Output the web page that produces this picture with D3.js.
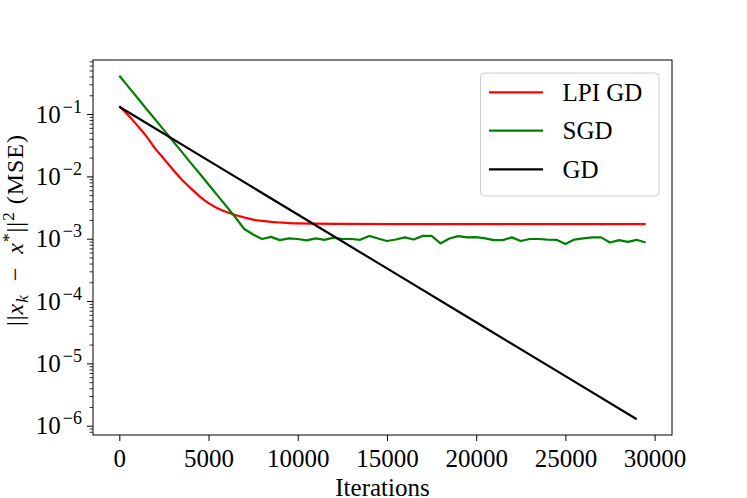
<!DOCTYPE html>
<html>
<head>
<meta charset="utf-8">
<script src="https://cdn.jsdelivr.net/npm/d3@7"></script>
<style>
  body { margin: 0; background: #fff; }
  text { font-family: "Liberation Serif", "Times New Roman", serif; fill: #000; }
</style>
</head>
<body>
<div id="chart"></div>
<script>
// ---- data ----
var seriesNames = ["LPI GD", "SGD", "GD"];
var seriesColors = ["#ff0000", "#008000", "#000000"];

var iterLPI = [0, 500, 1000, 1500, 2000, 2500, 3000, 3500, 4000, 4500, 5000,
  5500, 6000, 6500, 7000, 7500, 8000, 8500, 9000, 9500, 10000,
  12500, 15000, 17500, 20000, 22500, 25000, 27500, 29500];
var mseLPI = [0.134, 0.0955, 0.0661, 0.0447, 0.0282, 0.0191, 0.0129, 0.00891, 0.00646, 0.00479, 0.00372,
  0.00309, 0.00269, 0.00240, 0.00219, 0.00202, 0.00193, 0.00186, 0.00182, 0.00178, 0.00176,
  0.00173, 0.00172, 0.00172, 0.00172, 0.00172, 0.00172, 0.00172, 0.00172];

var iterSGD = [0, 500, 1000, 1500, 2000, 2500, 3000, 3500, 4000, 4500,
  5000, 5500, 6000, 6500, 7000, 7500, 8000, 8500, 9000, 9500,
  10000, 10500, 11000, 11500, 12000, 12500, 13000, 13500, 14000, 14500,
  15000, 15500, 16000, 16500, 17000, 17500, 18000, 18500, 19000, 19500,
  20000, 20500, 21000, 21500, 22000, 22500, 23000, 23500, 24000, 24500,
  25000, 25500, 26000, 26500, 27000, 27500, 28000, 28500, 29000, 29500];
var mseSGD = [0.412, 0.275, 0.184, 0.123, 0.0826, 0.0552, 0.0369, 0.0247, 0.0165, 0.0111,
  0.00740, 0.00495, 0.00331, 0.00221, 0.00143, 0.00117, 0.00099, 0.00107, 0.00095, 0.00101,
  0.00099, 0.00094, 0.00101, 0.00096, 0.00104, 0.00099, 0.00099, 0.00096, 0.00111, 0.00101,
  0.00092, 0.00097, 0.00105, 0.00097, 0.00111, 0.00111, 0.00084, 0.00101, 0.00110, 0.00105,
  0.00106, 0.00101, 0.00095, 0.00095, 0.00105, 0.00092, 0.00099, 0.00099, 0.00097, 0.00096,
  0.00082, 0.00097, 0.00101, 0.00105, 0.00105, 0.00087, 0.00095, 0.00089, 0.00096, 0.00087];

var iterGD = [0, 5000, 10000, 15000, 20000, 25000, 29000];
var mseGD = [0.131, 0.0179, 0.00244, 0.000334, 0.0000457, 0.00000625, 0.00000127];

var xTicks = [0, 5000, 10000, 15000, 20000, 25000, 30000];
var yTickExp = [-1, -2, -3, -4, -5, -6];

// ---- layout ----
var svgWidth = 747, svgHeight = 498;
var margin = { top: 60, right: 75, bottom: 63, left: 93 };
var width = svgWidth - margin.left - margin.right;
var height = svgHeight - margin.top - margin.bottom;

var svg = d3.select("#chart").append("svg")
  .attr("width", svgWidth)
  .attr("height", svgHeight);

var chartGroup = svg.append("g")
  .attr("transform", `translate(${margin.left}, ${margin.top})`);

var xScale = d3.scaleLinear()
  .domain([-1475, 30975])
  .range([0, width]);

var yScale = d3.scaleLog()
  .domain([Math.pow(10, -6.149), Math.pow(10, -0.133)])
  .range([height, 0]);

chartGroup.append("clipPath").attr("id", "plotclip")
  .append("rect").attr("width", width).attr("height", height);

// lines
var seriesData = [
  d3.zip(iterLPI, mseLPI),
  d3.zip(iterSGD, mseSGD),
  d3.zip(iterGD, mseGD)
];

seriesData.forEach(function(pts, i) {
  var lineGen = d3.line()
    .x(d => xScale(d[0]))
    .y(d => yScale(d[1]))
    .curve(i == 0 ? d3.curveMonotoneX : d3.curveLinear);
  chartGroup.append("path")
    .datum(pts)
    .attr("clip-path", "url(#plotclip)")
    .attr("d", lineGen)
    .attr("fill", "none")
    .attr("stroke", seriesColors[i])
    .attr("stroke-width", 2.2)
    .attr("stroke-linejoin", "round");
});

// x axis
var xAxis = d3.axisBottom(xScale).tickValues(xTicks).tickSize(6).tickSizeOuter(0).tickFormat(d3.format("d"));
var xg = chartGroup.append("g")
  .attr("transform", `translate(0, ${height})`)
  .call(xAxis);
xg.select(".domain").remove();
xg.selectAll("line").attr("stroke", "#000").attr("stroke-width", 1);
xg.selectAll("text")
  .attr("dy", null)
  .attr("y", 32.3)
  .style("font-size", "25px")
  .style("font-family", '"Liberation Serif", serif');

// y axis: minor ticks
var minorVals = [];
for (var e = -7; e <= 0; e++) {
  for (var k = 2; k <= 9; k++) {
    var v = k * Math.pow(10, e);
    if (v >= yScale.domain()[0] && v <= yScale.domain()[1]) minorVals.push(v);
  }
}
var yMinor = chartGroup.append("g")
  .call(d3.axisLeft(yScale).tickValues(minorVals).tickSize(3.5).tickFormat(""));
yMinor.select(".domain").remove();
yMinor.selectAll("line").attr("stroke", "#000").attr("stroke-width", 0.8);

var yMajor = chartGroup.append("g")
  .call(d3.axisLeft(yScale).tickValues(yTickExp.map(p => Math.pow(10, p))).tickSize(6).tickFormat(""));
yMajor.select(".domain").remove();
yMajor.selectAll("line").attr("stroke", "#000").attr("stroke-width", 1);

// y tick labels as 10^p
yTickExp.forEach(function(p) {
  var t = chartGroup.append("text")
    .attr("x", -11)
    .attr("y", yScale(Math.pow(10, p)) + 8.5)
    .attr("text-anchor", "end")
    .style("font-size", "25px");
  t.append("tspan").text("10");
  t.append("tspan").attr("dy", -10).attr("dx", 2).style("font-size", "18px").text("\u2212" + (-p));
});

// frame
chartGroup.append("rect")
  .attr("width", width)
  .attr("height", height)
  .attr("fill", "none")
  .attr("stroke", "#000")
  .attr("stroke-width", 1);

// axis labels
chartGroup.append("text")
  .attr("x", width / 2)
  .attr("y", height + 60.5)
  .attr("text-anchor", "middle")
  .style("font-size", "25px")
  .text("Iterations");

var yl = svg.append("text")
  .attr("transform", "translate(23, 230) rotate(-90)")
  .attr("text-anchor", "middle")
  .style("letter-spacing", "1px")
  .style("font-size", "24px");
yl.append("tspan").text("||");
yl.append("tspan").style("font-style", "italic").text("x");
yl.append("tspan").attr("dy", 5).style("font-size", "17px").style("font-style", "italic").text("k");
yl.append("tspan").attr("dy", -5).text("\u2002\u2212\u2002");
yl.append("tspan").style("font-style", "italic").text("x");
yl.append("tspan").attr("dy", -9).style("font-size", "17px").text("*");
yl.append("tspan").attr("dy", 9).text("||");
yl.append("tspan").attr("dy", -9).style("font-size", "17px").text("2");
yl.append("tspan").attr("dy", 9).text(" (MSE)");

// legend
var legend = svg.append("g");
legend.append("rect")
  .attr("x", 480.5).attr("y", 73)
  .attr("width", 178.5).attr("height", 123)
  .attr("rx", 4)
  .attr("fill", "#fff").attr("fill-opacity", 0.8)
  .attr("stroke", "#cccccc").attr("stroke-width", 1);

var legendY = [92.3, 130.7, 169.3];
seriesNames.forEach(function(name, i) {
  legend.append("line")
    .attr("x1", 489).attr("x2", 543)
    .attr("y1", legendY[i]).attr("y2", legendY[i])
    .attr("stroke", seriesColors[i])
    .attr("stroke-width", 2.2);
  legend.append("text")
    .attr("x", 562.5)
    .attr("y", legendY[i] + 8.5)
    .style("font-size", "25px")
    .text(name);
});
</script>
</body>
</html>
